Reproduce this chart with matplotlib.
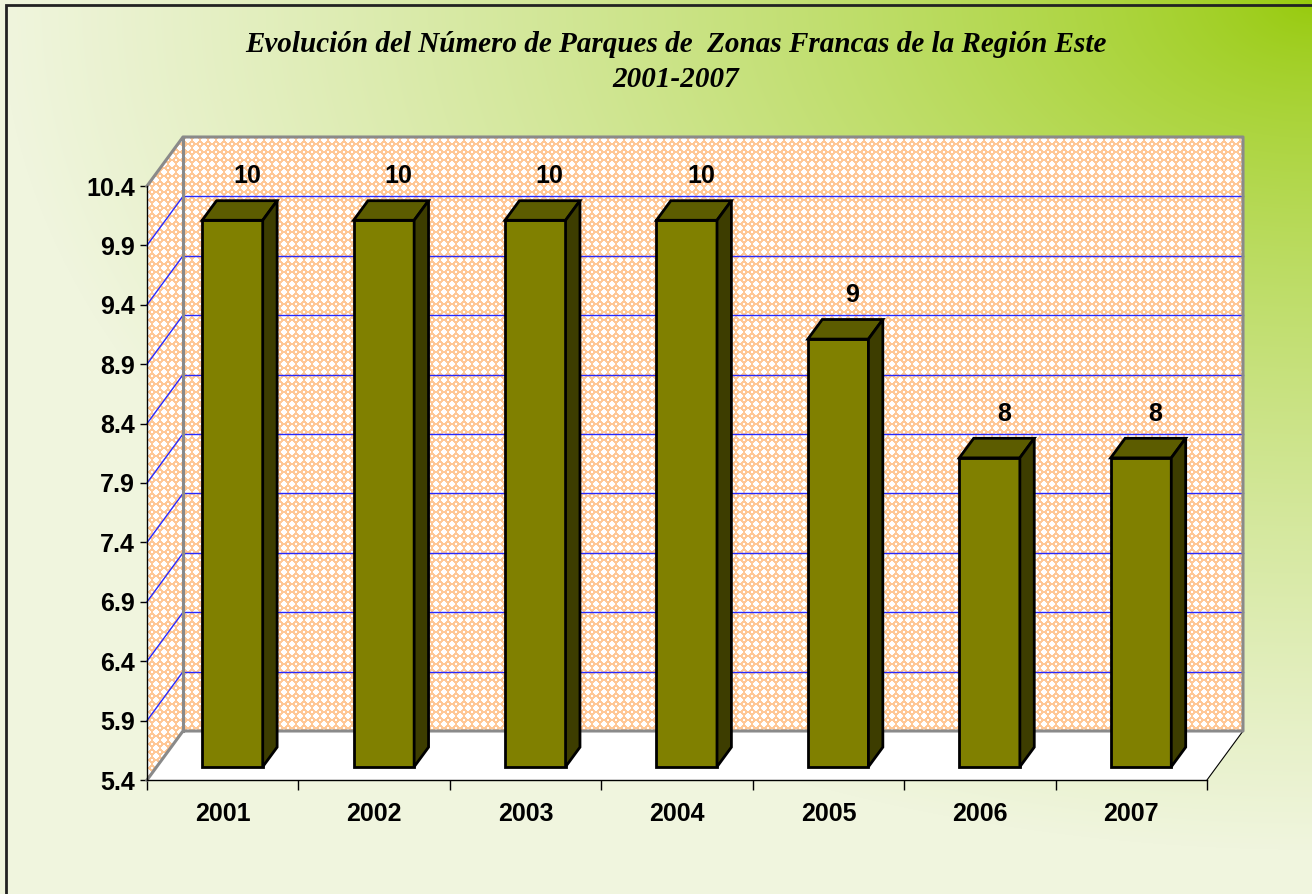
import numpy as np
import matplotlib
matplotlib.use("Agg")
import matplotlib.pyplot as plt
from matplotlib.patches import Polygon, Rectangle

# data
years = ["2001", "2002", "2003", "2004", "2005", "2006", "2007"]
parks = [10, 10, 10, 10, 9, 8, 8]
y_ticks = [5.4, 5.9, 6.4, 6.9, 7.4, 7.9, 8.4, 8.9, 9.4, 9.9, 10.4]
title = "Evolución del Número de Parques de  Zonas Francas de la Región Este\n2001-2007"

W, H = 1312, 894
FRONT = "#808000"
TOP = "#5c5c00"
SIDE = "#3d3d00"

fig = plt.figure(figsize=(W / 100, H / 100), dpi=100)

# background gradient (green from the top-right corner) + lace pattern for walls
bg = fig.add_axes([0, 0, 1, 1])
bg.set_xlim(0, W); bg.set_ylim(H, 0); bg.axis("off")
yy, xx = np.mgrid[0:H, 0:W]
t = np.clip(np.sqrt(((W - xx) / (W * 1.0)) ** 2 + (yy / (H * 0.95)) ** 2), 0, 1) ** 0.75
green = np.array([150, 202, 10]) / 255
cream = np.array([240, 245, 222]) / 255
grad = green[None, None, :] * (1 - t[..., None]) + cream[None, None, :] * t[..., None]
bg.imshow(grad, extent=(0, W, H, 0), aspect="auto", interpolation="bilinear", zorder=0)

a = (xx % 8) - 3.5
b = (yy % 8) - 3.5
white = (np.abs(a) + np.abs(b) < 3.2) | ((np.abs(a) > 3) & (np.abs(b) > 3))
orange = np.array([255, 200, 150]) / 255
lace = np.where(white[..., None], np.ones(3)[None, None, :], orange[None, None, :])
lace_img = bg.imshow(lace, extent=(0, W, H, 0), aspect="auto", interpolation="nearest", zorder=1)

# main axes = front plane of the 3d box
ax = fig.add_axes([147 / W, 1 - 780 / H, 1060 / W, 594 / H])
ax.set_xlim(0, 7)
ax.set_ylim(5.4, 10.4)
ax.patch.set_visible(False)
DX = 36 / (1060 / 7)   # depth offset in data units
DY = 49 / (594 / 5)
ymin, ymax = y_ticks[0], y_ticks[-1]
n = len(years)


def P(x, y, d):
    return (x + d * DX, y + d * DY)


walls = [P(0, ymin, 0), P(0, ymax, 0), P(0, ymax, 1), P(n, ymax, 1), P(n, ymin, 1), P(0, ymin, 1)]
lace_img.set_clip_path(Polygon(walls, closed=True, transform=ax.transData))

# floor
ax.add_patch(Polygon([P(0, ymin, 0), P(n, ymin, 0), P(n, ymin, 1), P(0, ymin, 1)],
                     closed=True, facecolor="white", edgecolor="none", clip_on=False, zorder=1))
ax.plot(*zip(P(n, ymin, 0), P(n, ymin, 1)), color="black", lw=0.8, clip_on=False, zorder=2)

# gridlines on back and side walls
for v in y_ticks[1:-1]:
    ax.plot(*zip(P(0, v, 1), P(n, v, 1)), color="#2a2aff", lw=1.0, clip_on=False, zorder=2)
    ax.plot(*zip(P(0, v, 0), P(0, v, 1)), color="#2a2aff", lw=1.0, clip_on=False, zorder=2)

# wall borders
ax.plot(*zip(P(0, ymin, 0), P(0, ymin, 1), P(n, ymin, 1), P(n, ymax, 1), P(0, ymax, 1),
             P(0, ymax, 0)), color="#8a8a8a", lw=2.2, clip_on=False, zorder=3)
ax.plot(*zip(P(0, ymin, 1), P(0, ymax, 1)), color="#8a8a8a", lw=2.2, clip_on=False, zorder=3)

# 3d bars
w = 0.4
d0, d1 = 0.27, 0.67
for i, v in enumerate(parks):
    xl, xr = i + 0.5 - w / 2, i + 0.5 + w / 2
    faces = [
        ([P(xl, ymin, d0), P(xr, ymin, d0), P(xr, v, d0), P(xl, v, d0)], FRONT),
        ([P(xl, v, d0), P(xr, v, d0), P(xr, v, d1), P(xl, v, d1)], TOP),
        ([P(xr, ymin, d0), P(xr, ymin, d1), P(xr, v, d1), P(xr, v, d0)], SIDE),
    ]
    for verts, col in faces:
        ax.add_patch(Polygon(verts, closed=True, facecolor=col, edgecolor="black", lw=2,
                             joinstyle="miter", clip_on=False, zorder=5))
    ax.annotate(f"{v}", P(i + 0.5, v, d1), xytext=(0, 9), textcoords="offset points",
                ha="center", va="bottom", fontsize=18, fontweight="bold",
                family="Liberation Sans", zorder=6, annotation_clip=False)

# axes
for s in ["top", "right"]:
    ax.spines[s].set_visible(False)
for s in ["left", "bottom"]:
    ax.spines[s].set_color("black")
    ax.spines[s].set_linewidth(1)
    ax.spines[s].set_zorder(4)
ax.set_yticks(y_ticks)
ax.set_yticklabels([f"{v:.1f}" for v in y_ticks], fontsize=18, fontweight="bold",
                   family="Liberation Sans")
ax.tick_params(axis="y", length=5, width=1, pad=3.5, colors="black")
ax.set_xticks(range(n + 1))
ax.set_xticklabels([])
ax.tick_params(axis="x", which="major", length=7.5, width=1, colors="black")
ax.set_xticks([i + 0.5 for i in range(n)], minor=True)
ax.set_xticklabels(years, minor=True, fontsize=18, fontweight="bold", family="Liberation Sans")
ax.tick_params(axis="x", which="minor", length=0, pad=16)

fig.text(0.515, 1 - 62 / H, title, ha="center", va="center", fontsize=21, fontweight="bold",
         fontstyle="italic", family="Liberation Serif", linespacing=1.36)

# outer frame (top and left edges visible)
fig.add_artist(Rectangle((6 / W, -0.05), 1.2, 1.05 - 5 / H, transform=fig.transFigure,
                         facecolor="none", edgecolor="#222222", lw=2))

fig.savefig("out.png", dpi=100)
